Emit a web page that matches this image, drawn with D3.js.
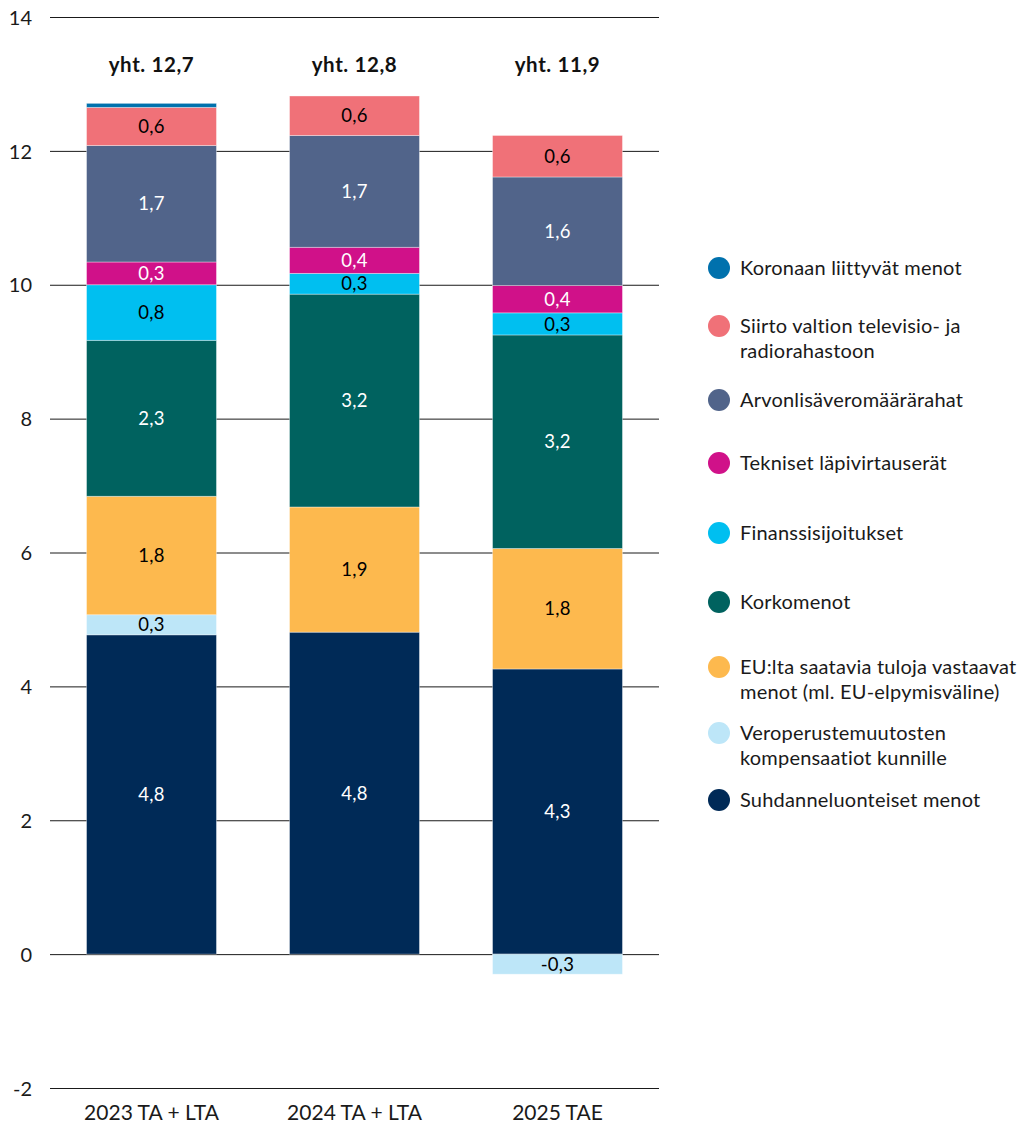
<!DOCTYPE html>
<html><head><meta charset="utf-8">
<script src="https://cdn.jsdelivr.net/npm/d3@7"></script>
<style>
body{margin:0;background:#fff;}
svg{display:block;font-family:Lato,"Noto Sans",sans-serif;}
</style></head>
<body><svg id="c" width="1027" height="1125"></svg>
<script>
// ---- data ----
const categories = ["2023 TA + LTA", "2024 TA + LTA", "2025 TAE"];
const totals = [12.7, 12.8, 11.9];
const seriesNames = [
  "Suhdanneluonteiset menot",
  "Veroperustemuutosten kompensaatiot kunnille",
  "EU:lta saatavia tuloja vastaavat menot (ml. EU-elpymisväline)",
  "Korkomenot",
  "Finanssisijoitukset",
  "Tekniset läpivirtauserät",
  "Arvonlisäveromäärärahat",
  "Siirto valtion televisio- ja radiorahastoon",
  "Koronaan liittyvät menot"
];
const suhdanne   = [4.77, 4.81, 4.26];
const vero       = [0.30, 0.00, -0.30];
const eu         = [1.77, 1.87, 1.80];
const korko      = [2.33, 3.18, 3.19];
const finanssi   = [0.83, 0.31, 0.33];
const tekniset   = [0.34, 0.39, 0.41];
const arvonlisa  = [1.74, 1.67, 1.62];
const siirto     = [0.57, 0.59, 0.62];
const korona     = [0.06, 0.00, 0.00];
const yTicks = [-2, 0, 2, 4, 6, 8, 10, 12, 14];

// legend order (top to bottom) and line-wrapped labels
const legendOrder = [8, 7, 6, 5, 4, 3, 2, 1, 0];
const legendLines = {
  8: ["Koronaan liittyvät menot"],
  7: ["Siirto valtion televisio- ja", "radiorahastoon"],
  6: ["Arvonlisäveromäärärahat"],
  5: ["Tekniset läpivirtauserät"],
  4: ["Finanssisijoitukset"],
  3: ["Korkomenot"],
  2: ["EU:lta saatavia tuloja vastaavat", "menot (ml. EU-elpymisväline)"],
  1: ["Veroperustemuutosten", "kompensaatiot kunnille"],
  0: ["Suhdanneluonteiset menot"]
};

// ---- styles ----
const colors = ["#002a57", "#bde6f8", "#fdb94e", "#00625f", "#00bff0", "#d01189", "#51648a", "#f07178", "#0071ad"];
const labelColors = ["#fff", "#000", "#000", "#fff", "#000", "#fff", "#fff", "#000", "#fff"];
const legendY = [268, 326, 400, 463, 533, 602, 667, 733, 800];

const seriesValues = [suhdanne, vero, eu, korko, finanssi, tekniset, arvonlisa, siirto, korona];
const table = categories.map((c, i) => {
  const row = {cat: c};
  seriesNames.forEach((s, k) => row[s] = seriesValues[k][i]);
  return row;
});

const svg = d3.select("#c");
const y = d3.scaleLinear().domain([-2, 14]).range([1088, 17]);
const x = d3.scaleBand().domain(categories).range([50, 659]).paddingInner(0.36).paddingOuter(0.18);

// gridlines
const yAxis = d3.axisLeft(y).tickValues(yTicks).tickSize(-(659 - 50)).tickFormat(d => d);
const ga = svg.append("g").attr("transform", "translate(50,0)").call(yAxis);
ga.select(".domain").remove();
ga.selectAll(".tick line").attr("stroke", "#1a1a1a").attr("stroke-width", 1);
ga.selectAll(".tick text").attr("x", -18).attr("dy", "0.36em").attr("text-anchor", "end")
  .attr("font-size", 20).attr("fill", "#1a1a1a").attr("font-family", "Lato,'Noto Sans',sans-serif");

// stacks
const stack = d3.stack().keys(seriesNames).offset(d3.stackOffsetDiverging);
const stacked = stack(table);
const fmt = v => d3.format(".1f")(v).replace(".", ",").replace("−", "-");

stacked.forEach((layer, k) => {
  const g = svg.append("g");
  g.selectAll("rect").data(layer.filter(d => d[1] !== d[0])).join("rect")
    .attr("x", d => x(d.data.cat))
    .attr("width", x.bandwidth())
    .attr("y", d => y(Math.max(d[0], d[1])))
    .attr("height", d => Math.abs(y(d[0]) - y(d[1])))
    .attr("fill", colors[k])
    .attr("stroke", "rgba(255,255,255,0.45)")
    .attr("stroke-width", 0.8);
  g.selectAll("text").data(layer.filter(d => Math.abs(d[1] - d[0]) >= 0.2)).join("text")
    .attr("x", d => x(d.data.cat) + x.bandwidth() / 2)
    .attr("y", d => y((d[0] + d[1]) / 2))
    .attr("dy", "0.36em")
    .attr("text-anchor", "middle")
    .attr("font-size", 18.5)
    .attr("letter-spacing", 0.3)
    .attr("fill", labelColors[k])
    .text(d => fmt(d.data[layer.key]));
});

// totals
svg.append("g").selectAll("text").data(categories).join("text")
  .attr("x", d => x(d) + x.bandwidth() / 2)
  .attr("y", 72)
  .attr("text-anchor", "middle").attr("font-size", 20.5).attr("font-weight", "bold")
  .attr("letter-spacing", 0.6)
  .attr("fill", "#111")
  .text((d, i) => "yht. " + fmt(totals[i]));

// category labels
svg.append("g").selectAll("text").data(categories).join("text")
  .attr("x", d => x(d) + x.bandwidth() / 2)
  .attr("y", 1120)
  .attr("text-anchor", "middle").attr("font-size", 21).attr("fill", "#1a1a1a")
  .text(d => d);

// legend
const lg = svg.append("g");
legendOrder.forEach((k, i) => {
  const yy = legendY[i];
  lg.append("circle").attr("cx", 719).attr("cy", yy).attr("r", 11).attr("fill", colors[k]);
  const t = lg.append("text").attr("x", 740).attr("y", yy)
    .attr("font-size", 20).attr("fill", "#1a1a1a").attr("letter-spacing", 0.2);
  legendLines[k].forEach((line, j) => {
    t.append("tspan").attr("x", 740).attr("dy", j === 0 ? "0.36em" : 25).text(line);
  });
});
</script>
</body></html>
